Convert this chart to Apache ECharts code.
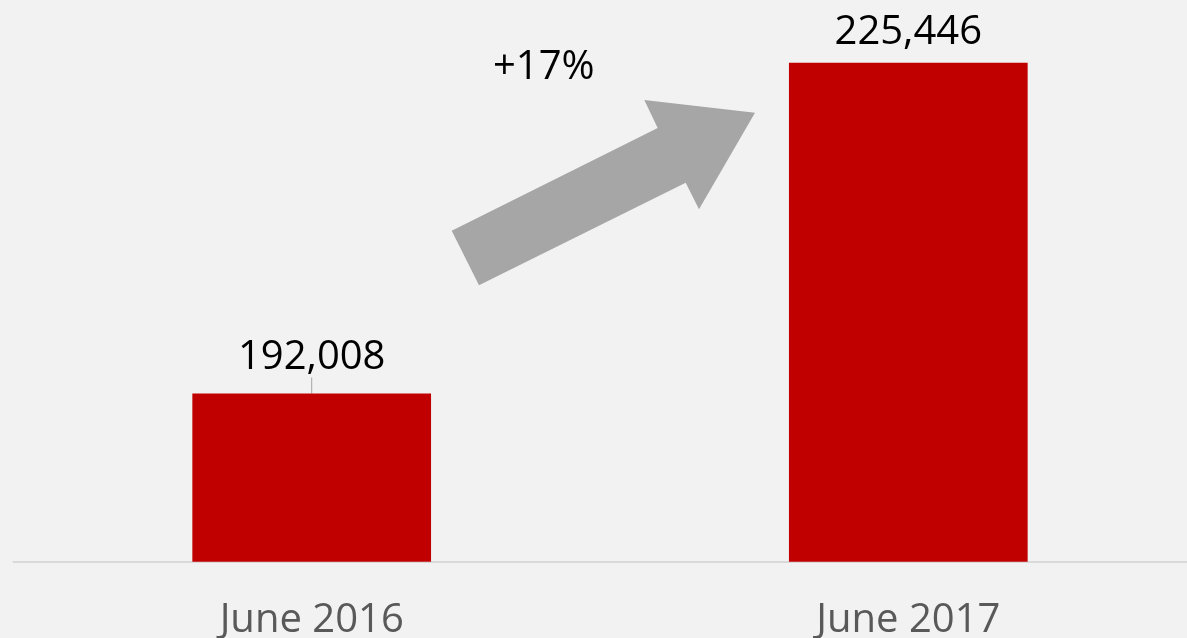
<!DOCTYPE html>
<html>
<head>
<meta charset="utf-8">
<script src="https://cdn.jsdelivr.net/npm/echarts@6/dist/echarts.min.js"></script>
<style>
html,body{margin:0;padding:0;background:#f2f2f2;}
#chart{width:1187px;height:638px;}
</style>
</head>
<body>
<div id="chart"></div>
<script>
const categories = ['June 2016', 'June 2017'];
const values = [192008, 225446];
const growthLabel = '+17%';

const FONT = '"Open Sans", "Noto Sans", sans-serif';
const chart = echarts.init(document.getElementById('chart'));
chart.setOption({
  backgroundColor: '#f2f2f2',
  animation: false,
  grid: { left: 13.4, width: 1193.2, top: 17.7, height: 544, containLabel: false, outerBoundsMode: 'none' },
  xAxis: {
    type: 'category',
    data: categories,
    axisLine: { show: true, lineStyle: { color: '#d9d9d9', width: 2 } },
    axisTick: { show: false },
    axisLabel: { color: '#595959', fontFamily: FONT, fontSize: 40, margin: 39 }
  },
  yAxis: {
    type: 'value', min: 175000, max: 230000,
    show: false, splitLine: { show: false }
  },
  series: [{
    type: 'bar',
    data: values.map((v, i) => ({ value: v, labelLine: { show: i === 0 } })),
    barWidth: 238.7,
    itemStyle: { color: '#c00000' },
    label: {
      show: true, position: 'top', distance: 10,
      color: '#000000', fontFamily: FONT, fontSize: 40,
      formatter: p => p.value.toLocaleString('en-US')
    },
    labelLayout: p => p.dataIndex === 0 ? { dy: -6 } : {},
    labelLine: { lineStyle: { color: '#a6a6a6', width: 1 } }
  }],
  graphic: [
    {
      type: 'polygon',
      shape: { points: [[451.7,230.7],[657.7,128],[644.3,100],[755,112.7],[699,209.3],[685.7,182.7],[479,285.3]] },
      style: { fill: '#a6a6a6' }
    },
    {
      type: 'text', left: 493, top: 48,
      style: { text: growthLabel, fill: '#000000', font: '40px ' + FONT }
    }
  ]
});
</script>
</body>
</html>
